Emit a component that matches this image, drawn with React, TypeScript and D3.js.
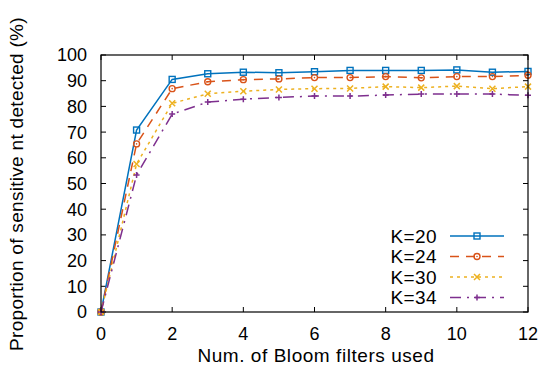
import React from "react";
import * as d3 from "d3";

const xs = [0, 1, 2, 3, 4, 5, 6, 7, 8, 9, 10, 11, 12];
const k20 = [0, 70.8, 90.5, 92.7, 93.3, 93.1, 93.5, 94.0, 94.0, 94.0, 94.2, 93.3, 93.6];
const k24 = [0, 65.4, 86.9, 89.6, 90.4, 90.7, 91.2, 91.2, 91.6, 91.1, 91.6, 91.6, 92.1];
const k30 = [0, 57.6, 81.2, 84.9, 85.9, 86.6, 86.9, 87.0, 87.7, 87.3, 87.9, 86.9, 87.7];
const k34 = [0, 53.3, 77.0, 81.7, 82.8, 83.5, 84.0, 84.0, 84.4, 84.8, 84.8, 84.8, 84.3];
const labels = ["K=20", "K=24", "K=30", "K=34"];
const xTicks = [0, 2, 4, 6, 8, 10, 12];
const yTicks = [0, 10, 20, 30, 40, 50, 60, 70, 80, 90, 100];

const series = [
  { name: labels[0], values: k20, color: "#0072bd", dash: "", marker: "square" },
  { name: labels[1], values: k24, color: "#d95319", dash: "9,7", marker: "circle" },
  { name: labels[2], values: k30, color: "#edb120", dash: "3,4", marker: "x" },
  { name: labels[3], values: k34, color: "#7e2f8e", dash: "11,6,2,6", marker: "plus" },
];

const W = 544, H = 372;
const L = 101, R = 528, T = 55, B = 312;
const font = "'Liberation Sans', Arial, sans-serif";

function Marker({ type, x, y, color }: { type: string; x: number; y: number; color: string }) {
  const s = 3;
  if (type === "square")
    return <rect x={x - s} y={y - s} width={2 * s} height={2 * s} fill="none" stroke={color} strokeWidth={1.4} />;
  if (type === "circle")
    return <g><circle cx={x} cy={y} r={s} fill="none" stroke={color} strokeWidth={1.4} /><circle cx={x} cy={y} r={0.8} fill={color} /></g>;
  if (type === "x")
    return <path d={`M${x - s},${y - s}L${x + s},${y + s}M${x - s},${y + s}L${x + s},${y - s}`} stroke={color} strokeWidth={1.5} />;
  return <path d={`M${x - s},${y}L${x + s},${y}M${x},${y - s}L${x},${y + s}`} stroke={color} strokeWidth={1.5} />;
}

export default function App() {
  const x = d3.scaleLinear().domain([0, 12]).range([L, R]);
  const y = d3.scaleLinear().domain([0, 100]).range([B, T]);
  const line = d3.line<number>().x((_, i) => x(xs[i])).y((d) => y(d));
  const tk = 5;
  return (
    <svg width={W} height={H} style={{ position: "absolute", left: 0, top: 0, background: "#fff" }} fontFamily={font}>
      <rect width={W} height={H} fill="#fff" />
      {yTicks.map((t) => (
        <g key={"y" + t}>
          <line x1={L} x2={L + tk} y1={y(t)} y2={y(t)} stroke="#000" />
          <line x1={R} x2={R - tk} y1={y(t)} y2={y(t)} stroke="#000" />
          <text x={L - 14} y={y(t)} dy="0.36em" textAnchor="end" fontSize={18}>{t}</text>
        </g>
      ))}
      {xTicks.map((t) => (
        <g key={"x" + t}>
          <line x1={x(t)} x2={x(t)} y1={B} y2={B - tk} stroke="#000" />
          <line x1={x(t)} x2={x(t)} y1={T} y2={T + tk} stroke="#000" />
          <text x={x(t)} y={B + 28} textAnchor="middle" fontSize={18}>{t}</text>
        </g>
      ))}
      {series.map((s) => (
        <g key={s.name}>
          <path d={line(s.values) || ""} fill="none" stroke={s.color} strokeWidth={1.5} strokeDasharray={s.dash} />
          {s.values.map((v, i) => (
            <Marker key={i} type={s.marker} x={x(xs[i])} y={y(v)} color={s.color} />
          ))}
        </g>
      ))}
      {series.map((s, i) => {
        const ly = 236 + i * 20.5;
        return (
          <g key={"lg" + s.name}>
            <text x={437} y={ly} dy="0.36em" textAnchor="end" fontSize={19} letterSpacing={0.4}>{s.name}</text>
            <line x1={450} x2={504} y1={ly} y2={ly} stroke={s.color} strokeWidth={1.5} strokeDasharray={s.dash} />
            <Marker type={s.marker} x={477} y={ly} color={s.color} />
          </g>
        );
      })}
      <rect x={L} y={T} width={R - L} height={B - T} fill="none" stroke="#000" strokeWidth={1.2} />
      <text x={316} y={362} textAnchor="middle" fontSize={19} letterSpacing={0.55}>Num. of Bloom filters used</text>
      <text transform={`translate(23,184) rotate(-90)`} textAnchor="middle" fontSize={19} letterSpacing={0.3}>
        Proportion of sensitive nt detected (%)
      </text>
    </svg>
  );
}
